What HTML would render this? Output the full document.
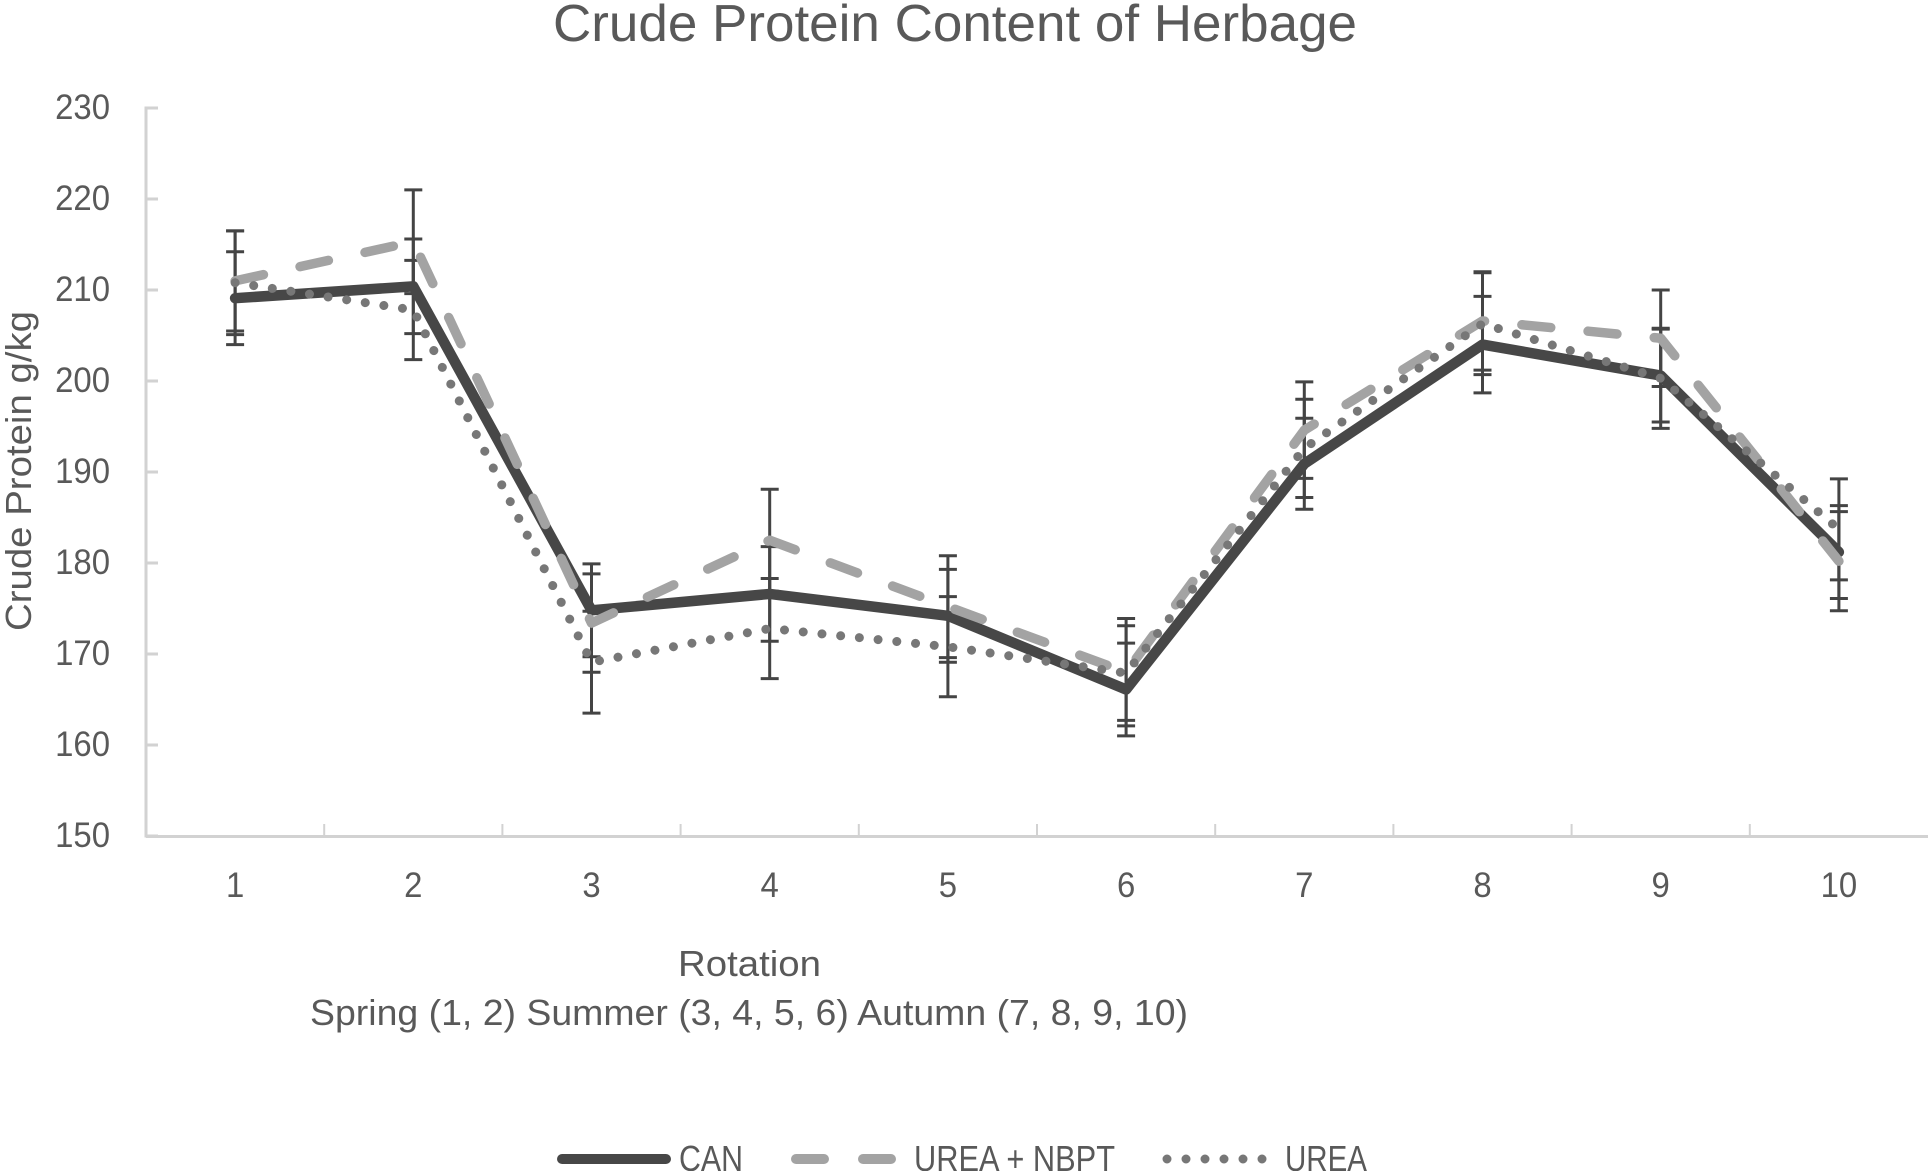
<!DOCTYPE html>
<html>
<head>
<meta charset="utf-8">
<title>Crude Protein Content of Herbage</title>
<style>
  html, body { margin: 0; padding: 0; background: #fff; }
  svg { display: block; }
  text { font-family: "Liberation Sans", sans-serif; fill: #595959; }
</style>
</head>
<body>
<svg id="chart" xmlns="http://www.w3.org/2000/svg" width="1929" height="1171" viewBox="0 0 1929 1171">
  <rect x="0" y="0" width="1929" height="1171" fill="#ffffff"/>
  <text x="553" y="41" font-size="52" textLength="804" lengthAdjust="spacingAndGlyphs">Crude Protein Content of Herbage</text>
  <text transform="translate(31,631) rotate(-90)" font-size="36" textLength="320" lengthAdjust="spacingAndGlyphs">Crude Protein g/kg</text>
  <text x="678" y="976" font-size="36" textLength="143" lengthAdjust="spacingAndGlyphs">Rotation</text>
  <text x="310" y="1025" font-size="36" textLength="878" lengthAdjust="spacingAndGlyphs">Spring (1, 2) Summer (3, 4, 5, 6) Autumn (7, 8, 9, 10)</text>
  <g id="axes"></g>
  <g id="errors"></g>
  <g id="series"></g>
  <g>
    <line x1="562" y1="1159" x2="666" y2="1159" stroke="#474747" stroke-width="10" stroke-linecap="round"/>
    <text x="679" y="1171" font-size="36" textLength="64" lengthAdjust="spacingAndGlyphs">CAN</text>
    <line x1="796" y1="1159" x2="891" y2="1159" stroke="#a3a3a3" stroke-width="10" stroke-linecap="round" stroke-dasharray="28 39"/>
    <text x="914" y="1171" font-size="36" textLength="201" lengthAdjust="spacingAndGlyphs">UREA + NBPT</text>
    <line x1="1167" y1="1159" x2="1263" y2="1159" stroke="#777777" stroke-width="9" stroke-linecap="round" stroke-dasharray="0.01 18.99"/>
    <text x="1285" y="1171" font-size="36" textLength="82" lengthAdjust="spacingAndGlyphs">UREA</text>
  </g>
</svg>
<script>
const categories = ["1", "2", "3", "4", "5", "6", "7", "8", "9", "10"];
const yTicks = [150, 160, 170, 180, 190, 200, 210, 220, 230];
const canValues = [209.1, 210.4, 174.8, 176.6, 174.2, 166.1, 190.9, 204.0, 200.6, 181.2];
const nbptValues = [211.0, 215.3, 173.4, 182.5, 175.2, 168.0, 194.6, 206.6, 204.7, 180.2];
const ureaValues = [210.8, 207.8, 169.1, 172.8, 170.8, 167.9, 192.6, 206.3, 200.3, 183.7];
const canErrors = [5.1, 5.2, 5.1, 5.2, 5.1, 5.1, 5.0, 5.3, 5.1, 5.1];
const nbptErrors = [5.5, 5.7, 5.4, 5.6, 5.6, 5.9, 5.3, 5.4, 5.3, 5.45];
const ureaErrors = [5.7, 5.45, 5.6, 5.5, 5.5, 5.2, 5.4, 5.6, 5.5, 5.55];

const NS = "http://www.w3.org/2000/svg";
const plotLeft = 146, plotRight = 1928, plotTop = 108, plotBottom = 836;
const yMin = 150, yMax = 230;
const band = (plotRight - plotLeft) / categories.length;

function xScale(i) { return plotLeft + band * (i + 0.5); }
function yScale(v) { return plotBottom - (v - yMin) / (yMax - yMin) * (plotBottom - plotTop); }

function makeLine(x1, y1, x2, y2, color, width) {
  const el = document.createElementNS(NS, "line");
  el.setAttribute("x1", x1);
  el.setAttribute("y1", y1);
  el.setAttribute("x2", x2);
  el.setAttribute("y2", y2);
  el.setAttribute("stroke", color);
  el.setAttribute("stroke-width", width);
  return el;
}
function makeText(x, y, str, anchor) {
  const el = document.createElementNS(NS, "text");
  el.setAttribute("x", x);
  el.setAttribute("y", y);
  el.setAttribute("font-size", "35");
  el.setAttribute("text-anchor", anchor);
  el.setAttribute("textLength", str.length * 18.3);
  el.setAttribute("lengthAdjust", "spacingAndGlyphs");
  el.textContent = str;
  return el;
}

const axes = document.getElementById("axes");
const axisColor = "#d2d2d2";

const yAxisLine = makeLine(plotLeft, plotTop - 1.5, plotLeft, plotBottom + 1.5, axisColor, 3);


axes.appendChild(yAxisLine);

const xAxisLine = makeLine(plotLeft, plotBottom + 0.5, plotRight, plotBottom + 0.5, axisColor, 3);


axes.appendChild(xAxisLine);

yTicks.forEach(function (t) {
  const y = yScale(t);
  const mark = makeLine(plotLeft, y, plotLeft + 12, y, axisColor, 3);
  
  
  axes.appendChild(mark);
  const label = makeText(110, y + 11, String(t), "end");
  
  
  axes.appendChild(label);
});

categories.forEach(function (c, i) {
  const edge = plotLeft + band * (i + 1);
  if (i < categories.length - 1) {
    const mark = makeLine(edge, plotBottom - 12, edge, plotBottom, axisColor, 2);
    
    
    axes.appendChild(mark);
  }
  const label = makeText(xScale(i), 897, c, "middle");
  
  
  axes.appendChild(label);
});

const errGroup = document.getElementById("errors");
function drawErrors(values, errors) {
  values.forEach(function (v, i) {
    const x = xScale(i);
    const hi = yScale(v + errors[i]);
    const lo = yScale(v - errors[i]);
    const stem = makeLine(x, hi, x, lo, "#444444", 3);
    
    
    errGroup.appendChild(stem);
    const capHigh = makeLine(x - 9, hi, x + 9, hi, "#444444", 3);
    
    
    errGroup.appendChild(capHigh);
    const capLow = makeLine(x - 9, lo, x + 9, lo, "#444444", 3);
    
    
    errGroup.appendChild(capLow);
  });
}
drawErrors(canValues, canErrors);
drawErrors(nbptValues, nbptErrors);
drawErrors(ureaValues, ureaErrors);

function pathFor(values) {
  return values.map(function (v, i) {
    return (i === 0 ? "M" : "L") + xScale(i).toFixed(2) + " " + yScale(v).toFixed(2);
  }).join(" ");
}
function makeSeries(values, color, width, dash) {
  const p = document.createElementNS(NS, "path");
  p.setAttribute("d", pathFor(values));
  p.setAttribute("fill", "none");
  p.setAttribute("stroke", color);
  p.setAttribute("stroke-width", width);
  p.setAttribute("stroke-linecap", "round");
  p.setAttribute("stroke-linejoin", "round");
  if (dash) p.setAttribute("stroke-dasharray", dash);
  return p;
}
const seriesGroup = document.getElementById("series");

const canLine = makeSeries(canValues, "#474747", 10.5, null);


seriesGroup.appendChild(canLine);

const nbptLine = makeSeries(nbptValues, "#a3a3a3", 9.5, "29 37.5");


seriesGroup.appendChild(nbptLine);

const ureaLine = makeSeries(ureaValues, "#777777", 9, "0.01 18.8");


seriesGroup.appendChild(ureaLine);
</script>
</body>
</html>
